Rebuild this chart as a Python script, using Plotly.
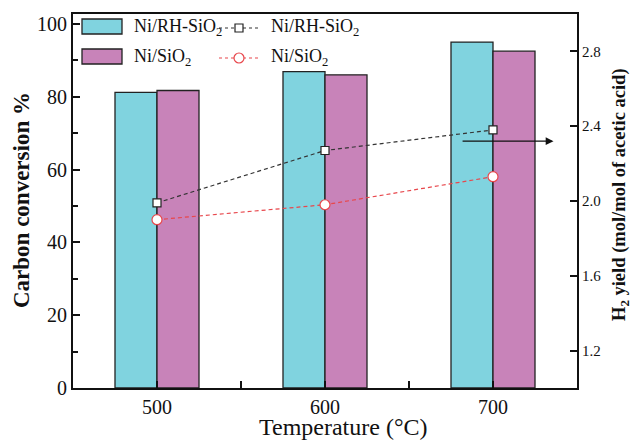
import plotly.graph_objects as go

temps = [500, 600, 700]
conv_rh = [81.2, 86.9, 95.0]
conv_si = [81.7, 86.0, 92.5]
h2_rh = [1.99, 2.27, 2.38]
h2_si = [1.90, 1.98, 2.13]
x_tickvals = [500, 550, 600, 650, 700]
x_ticktext = ["500", "", "600", "", "700"]
y_tickvals = [0, 20, 40, 60, 80, 100]
y2_tickvals = [1.2, 1.6, 2.0, 2.4, 2.8]
y2_ticktext = ["1.2", "1.6", "2.0", "2.4", "2.8"]

CYAN = "#80d3df"
MAG = "#c883b9"
FONT = "Liberation Serif"
DASH = "4px,3px"

fig = go.Figure()
fig.add_trace(go.Bar(x=temps, y=conv_rh, name="Ni/RH-SiO<sub>2</sub>", marker=dict(color=CYAN, line=dict(color="#222", width=1.3)), showlegend=False))
fig.add_trace(go.Bar(x=temps, y=conv_si, name="Ni/SiO<sub>2</sub>", marker=dict(color=MAG, line=dict(color="#222", width=1.3)), showlegend=False))
fig.add_trace(go.Scatter(x=temps, y=h2_rh, yaxis="y2", mode="lines+markers", name="Ni/RH-SiO<sub>2</sub>",
                         line=dict(color="#333", width=1.2, dash=DASH),
                         marker=dict(symbol="square", size=8, color="white", line=dict(color="#222", width=1.2)), showlegend=False))
fig.add_trace(go.Scatter(x=temps, y=h2_si, yaxis="y2", mode="lines+markers", name="Ni/SiO<sub>2</sub>",
                         line=dict(color="#e8474c", width=1.2, dash=DASH),
                         marker=dict(symbol="circle", size=10, color="white", line=dict(color="#e8474c", width=1.2)), showlegend=False))

shapes = []
annotations = []
W, H = 631, 440
L, R, T, B = 73, 577, 14, 388
def px(x):
    return (x - L) / (R - L)
def py(y):
    return (B - y) / (B - T)

for (y0, y1, col) in [(19, 34, CYAN), (49, 64, MAG)]:
    shapes.append(dict(type="rect", xref="paper", yref="paper", x0=px(82), x1=px(122), y0=py(y1), y1=py(y0),
                       fillcolor=col, line=dict(color="#222", width=1.3)))
for (yc, col, sym) in [(28, "#333", "square"), (58, "#e8474c", "circle")]:
    shapes.append(dict(type="line", xref="paper", yref="paper", x0=px(219), x1=px(260), y0=py(yc), y1=py(yc),
                       line=dict(color=col, width=1.2, dash="3px,3px")))
    if sym == "square":
        shapes.append(dict(type="rect", xref="paper", yref="paper", x0=px(235), x1=px(243), y0=py(yc + 4), y1=py(yc - 4),
                           fillcolor="white", line=dict(color="#222", width=1.2)))
    else:
        shapes.append(dict(type="circle", xref="paper", yref="paper", x0=px(234), x1=px(244), y0=py(yc + 5), y1=py(yc - 5),
                           fillcolor="white", line=dict(color=col, width=1.2)))

leg_texts = [(132, 27, "Ni/RH-SiO<sub>2</sub>"), (132, 57, "Ni/SiO<sub>2</sub>"),
             (269, 27, "Ni/RH-SiO<sub>2</sub>"), (269, 57, "Ni/SiO<sub>2</sub>")]
for (x, y, t) in leg_texts:
    annotations.append(dict(xref="paper", yref="paper", x=px(x), y=py(y), text=t, showarrow=False,
                            xanchor="left", yanchor="middle", font=dict(family=FONT, size=18, color="#111")))

annotations.append(dict(x=736, y=2.32, xref="x", yref="y2", ax=681, ay=2.32, axref="x", ayref="y2",
                        text="", showarrow=True, arrowhead=2, arrowsize=1.3, arrowwidth=1.2, arrowcolor="#111"))

annotations.append(dict(xref="paper", yref="paper", x=px(21), y=py(200), text="<b>Carbon conversion %</b>",
                        textangle=-90, showarrow=False, xanchor="center", yanchor="middle",
                        font=dict(family=FONT, size=23, color="#111")))
annotations.append(dict(xref="paper", yref="paper", x=px(620), y=py(195), text="<b>H<sub>2</sub> yield (mol/mol of acetic acid)</b>",
                        textangle=-90, showarrow=False, xanchor="center", yanchor="middle",
                        font=dict(family=FONT, size=18.5, color="#111")))
annotations.append(dict(xref="paper", yref="paper", x=px(343), y=py(427), text="Temperature (°C)",
                        showarrow=False, xanchor="center", yanchor="middle",
                        font=dict(family=FONT, size=24, color="#111")))

fig.update_layout(
    width=W, height=H,
    margin=dict(l=L, r=W - R, t=T, b=H - B),
    paper_bgcolor="white", plot_bgcolor="white",
    barmode="group", bargap=0.5, bargroupgap=0,
    font=dict(family=FONT, color="#111"),
    xaxis=dict(range=[450, 750], tickvals=x_tickvals, ticktext=x_ticktext, ticks="inside", ticklen=7,
               tickwidth=1.5, tickcolor="#111", showline=True, linecolor="#111", linewidth=2, mirror=True,
               showgrid=False, zeroline=False, tickfont=dict(size=20, family=FONT, color="#111")),
    yaxis=dict(range=[0, 102.7], tickvals=y_tickvals, ticks="inside", ticklen=7, tickwidth=1.5, tickcolor="#111",
               minor=dict(dtick=10, ticks="inside", ticklen=5, tickwidth=1.5, tickcolor="#111", showgrid=False),
               showline=True, linecolor="#111", linewidth=2, showgrid=False, zeroline=False,
               tickfont=dict(size=20, family=FONT, color="#111")),
    yaxis2=dict(range=[1.0, 3.0], overlaying="y", side="right", tickvals=y2_tickvals, ticktext=y2_ticktext,
                ticks="inside", ticklen=7, tickwidth=1.5, tickcolor="#111", showline=True, linecolor="#111",
                linewidth=2, showgrid=False, zeroline=False, tickfont=dict(size=15, family=FONT, color="#111")),
    shapes=shapes, annotations=annotations, showlegend=False,
)

fig.write_html("out.html", config={"displayModeBar": False},
               post_script="document.body.style.margin='0';document.body.style.overflow='hidden';")
